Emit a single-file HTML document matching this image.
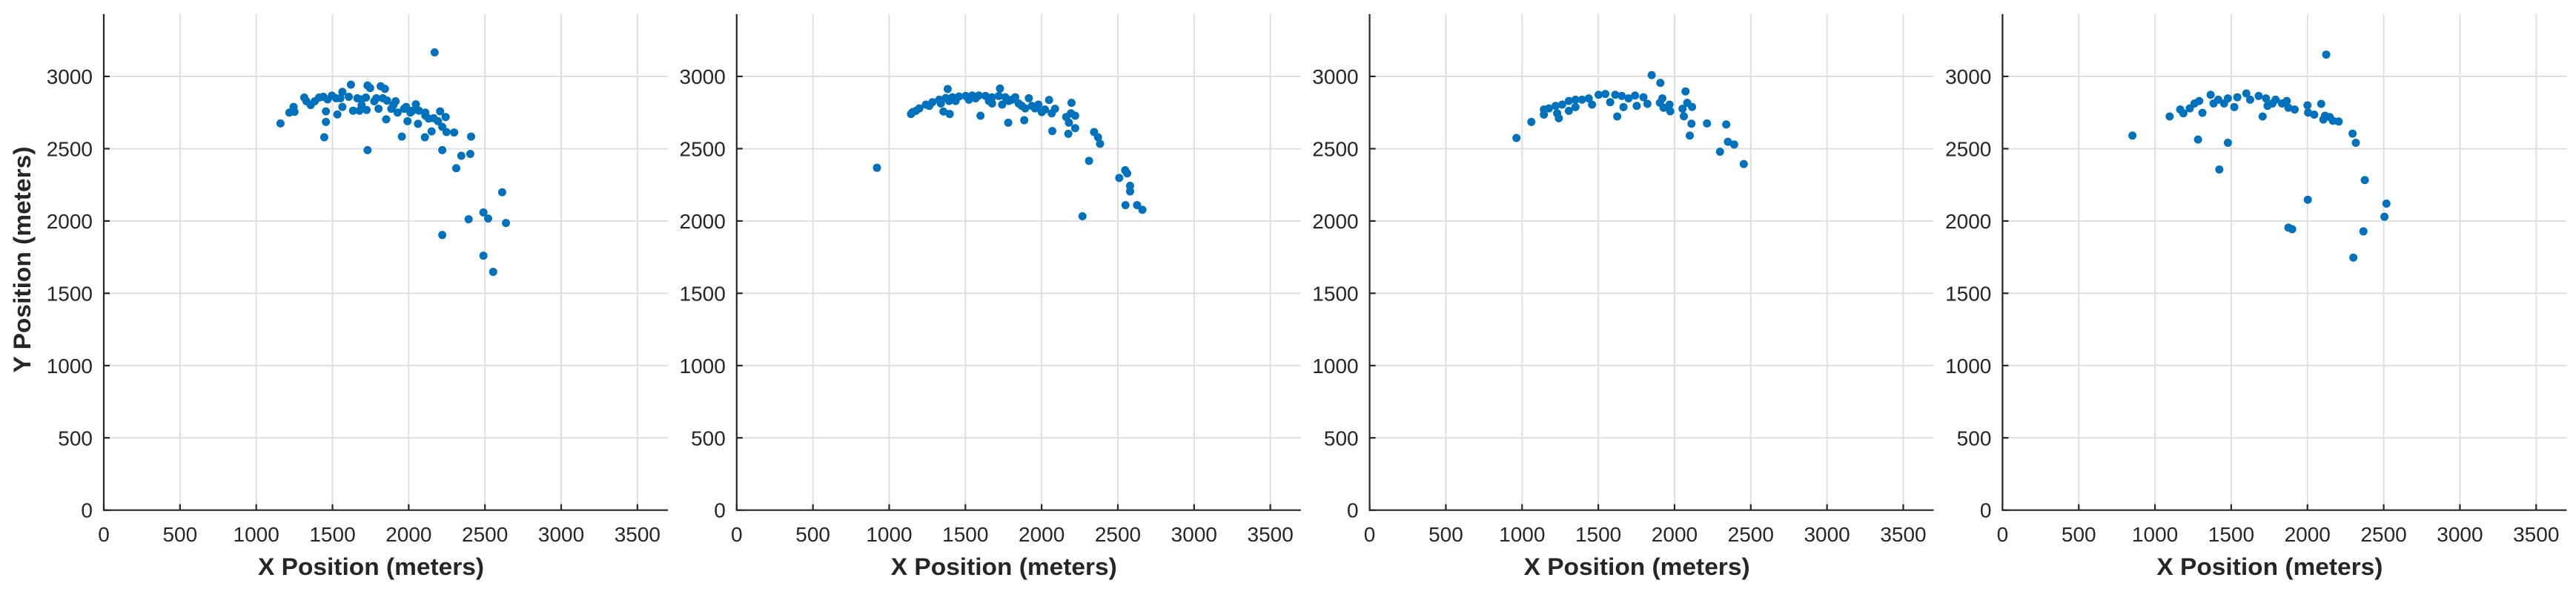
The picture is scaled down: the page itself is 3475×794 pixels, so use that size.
<!DOCTYPE html>
<html><head><meta charset="utf-8"><style>
html,body{margin:0;padding:0;background:#fff;}
svg{display:block;}
text{font-family:"Liberation Sans",Arial,sans-serif;fill:#262626;}
</style></head>
<body>
<svg id="chart" width="3475" height="794" viewBox="0 0 3475 794" xmlns="http://www.w3.org/2000/svg"></svg>
<script>
const xTicks=[0,500,1000,1500,2000,2500,3000,3500];
const yTicks=[0,500,1000,1500,2000,2500,3000];
const xTickLabels=["0","500","1000","1500","2000","2500","3000","3500"];
const yTickLabels=["0","500","1000","1500","2000","2500","3000"];
const panel1X=[1159,1217,1245,1251,1315,1357,1384,1412,1446,1457,1457,1532,1468,1524,1565,1565,1621,1607,1635,1677,1691,1730,1747,1724,1730,1719,1774,1802,1816,1844,1788,1852,1858,1886,1914,1927,1955,1983,1992,2011,2047,2067,2061,2109,2106,2150,2164,2192,2206,2220,2242,2248,2298,2220,2170,2345,2312,2404,2409,2613,2490,2521,2393,2638,2220,2490,2554,1329,1440,1496,1552,1663,1691,1830,1900,1969,2025,2109,2131];
const panel1Y=[2675,2750,2789,2755,2854,2802,2828,2854,2579,2758,2685,2737,2841,2849,2893,2789,2943,2859,2763,2763,2841,2937,2919,2768,2490,2854,2828,2776,2932,2914,2849,2703,2833,2776,2828,2750,2584,2789,2690,2750,2807,2763,2672,2729,2579,2620,2711,2690,2758,2651,2719,2615,2612,2490,3166,2451,2365,2464,2584,2199,2059,2017,2012,1986,1903,1760,1648,2828,2859,2867,2849,2849,2802,2849,2802,2776,2763,2750,2708];
const panel2X=[920,1143,1384,1356,1397,1599,1727,1781,1886,1916,2049,2088,2070,2175,2196,2192,2220,2161,2179,2220,2344,2370,2383,2311,2548,2561,2509,2580,2580,2550,2626,2661,2268,1154,1198,1241,1284,1328,1371,1415,1458,1502,1545,1588,1632,1675,1719,1762,1805,1849,1892,1936,1979,2022,2066,1176,1263,1339,1436,1523,1654,1741,1827,1870,1957,2001,1393,1567,1675,1784];
const panel2Y=[2368,2740,2913,2757,2740,2728,2916,2680,2697,2849,2837,2776,2622,2603,2817,2745,2728,2719,2680,2642,2615,2579,2534,2416,2351,2329,2298,2243,2205,2110,2110,2077,2033,2753,2779,2805,2822,2839,2851,2856,2861,2865,2868,2868,2865,2856,2865,2856,2839,2813,2779,2796,2805,2771,2745,2762,2796,2813,2830,2839,2830,2805,2856,2796,2779,2753,2830,2848,2813,2830];
const panel3X=[963,1061,1143,1143,1176,1220,1241,1230,1263,1307,1307,1350,1350,1393,1437,1459,1502,1546,1578,1611,1654,1665,1698,1741,1752,1796,1822,1624,1850,1907,1920,1904,1928,1967,1972,2072,2083,2052,2061,2115,2111,2100,2213,2339,2350,2391,2298,2454];
const panel3Y=[2574,2685,2771,2736,2779,2796,2711,2745,2805,2830,2762,2839,2788,2839,2848,2805,2873,2878,2822,2873,2865,2788,2848,2868,2796,2856,2810,2723,3009,2955,2848,2818,2783,2805,2759,2896,2817,2776,2724,2789,2673,2591,2675,2668,2548,2529,2479,2394];
const panel4X=[852,1096,1165,1186,1228,1259,1290,1311,1365,1384,1415,1453,1478,1520,1540,1599,1624,1680,1728,1738,1770,1791,1833,1864,1875,1916,1706,1282,1478,1422,2000,2004,2044,2090,2123,2115,2146,2104,2167,2205,2296,2317,2376,2002,2518,2505,1875,1900,2367,2301];
const panel4Y=[2591,2723,2771,2745,2779,2813,2830,2748,2873,2813,2839,2813,2848,2788,2856,2882,2839,2865,2848,2796,2813,2839,2813,2830,2783,2771,2723,2563,2541,2356,2800,2750,2736,2810,3151,2728,2719,2702,2693,2688,2604,2541,2283,2147,2120,2029,1954,1943,1928,1747];

const NS="http://www.w3.org/2000/svg";
const svg=document.getElementById('chart');
const X_MAX=3700, Y_MAX=3431;
const PW=761, TOP=19, BOT=687.7;
function mk(tag,attrs,parent){const e=document.createElementNS(NS,tag);for(const k in attrs)e.setAttribute(k,attrs[k]);parent.appendChild(e);return e;}
const panels=[[panel1X,panel1Y],[panel2X,panel2Y],[panel3X,panel3Y],[panel4X,panel4Y]];
panels.forEach((p,i)=>{
  const x0=140+853.8*i;
  const sx=v=>x0+v/X_MAX*PW;
  const sy=v=>BOT-v/Y_MAX*(BOT-TOP);
  const g=mk('g',{},svg);
  
  
  const grid=mk('g',{stroke:'#dfdfdf','stroke-width':2},g);
  
  
  xTicks.forEach(t=>{if(t>0)mk('line',{x1:sx(t),x2:sx(t),y1:TOP,y2:BOT},grid);});
  yTicks.forEach(t=>{if(t>0)mk('line',{x1:x0,x2:x0+PW,y1:sy(t),y2:sy(t)},grid);});
  const pts=mk('g',{fill:'#0072BD'},g);
  
  
  p[0].forEach((xv,j)=>{
    const c=mk('circle',{cx:sx(xv),cy:sy(p[1][j]),r:5.5},pts);
    
    
  });
  const ax=mk('g',{stroke:'#262626','stroke-width':2.2,fill:'none'},g);
  
  
  mk('path',{d:`M${x0} ${TOP}V${BOT}H${x0+PW}`},ax);
  xTicks.forEach(t=>mk('line',{x1:sx(t),x2:sx(t),y1:BOT,y2:BOT-8},ax));
  yTicks.forEach(t=>mk('line',{x1:x0,x2:x0+8,y1:sy(t),y2:sy(t)},ax));
  xTicks.forEach((t,k)=>{
    const tx=mk('text',{x:sx(t),y:730,'font-size':28,'text-anchor':'middle'},g);
    tx.textContent=xTickLabels[k];
    
    
  });
  yTicks.forEach((t,k)=>{
    const tx=mk('text',{x:x0-15,y:sy(t)+10,'font-size':28,'text-anchor':'end'},g);
    tx.textContent=yTickLabels[k];
    
    
  });
  const xt=mk('text',{x:x0+PW/2-20,y:775,'font-size':32,'font-weight':'bold','text-anchor':'middle',textLength:305,lengthAdjust:'spacingAndGlyphs'},g);
  xt.textContent='X Position (meters)';
  
  
  if(i===0){
    const yt=mk('text',{x:0,y:0,'font-size':32,'font-weight':'bold','text-anchor':'middle',transform:`translate(41,350) rotate(-90)`,textLength:305,lengthAdjust:'spacingAndGlyphs'},g);
    yt.textContent='Y Position (meters)';
    
    
  }
});
</script>
</body></html>
